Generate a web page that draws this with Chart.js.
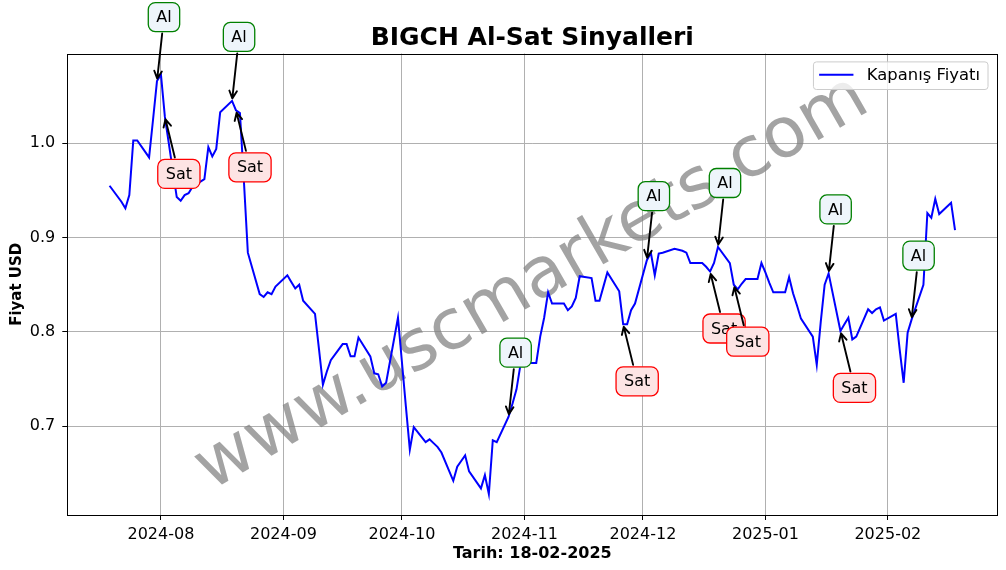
<!DOCTYPE html>
<html>
<head>
<meta charset="utf-8">
<script src="https://cdn.jsdelivr.net/npm/chart.js@4.4.1/dist/chart.umd.min.js"></script>
<style>
html,body{margin:0;padding:0;background:#ffffff;}
#wrap{width:1006px;height:570px;position:relative;}
</style>
</head>
<body>
<div id="wrap"><canvas id="c" width="1006" height="570"></canvas></div>
<script>
// ---------------- DATA ----------------
const dates = [
 '2024-07-19','2024-07-22','2024-07-23','2024-07-24','2024-07-25','2024-07-26','2024-07-29','2024-07-30','2024-07-31',
 '2024-08-01','2024-08-02','2024-08-05','2024-08-06','2024-08-07','2024-08-08','2024-08-09','2024-08-12','2024-08-13',
 '2024-08-14','2024-08-15','2024-08-16','2024-08-19','2024-08-20','2024-08-21','2024-08-22','2024-08-23','2024-08-26',
 '2024-08-27','2024-08-28','2024-08-29','2024-08-30','2024-09-02','2024-09-03','2024-09-04','2024-09-05','2024-09-06',
 '2024-09-09','2024-09-10','2024-09-11','2024-09-12','2024-09-13','2024-09-16','2024-09-17','2024-09-18','2024-09-19',
 '2024-09-20','2024-09-23','2024-09-24','2024-09-25','2024-09-26','2024-09-27','2024-09-30','2024-10-01','2024-10-02',
 '2024-10-03','2024-10-04','2024-10-07','2024-10-08','2024-10-09','2024-10-10','2024-10-11','2024-10-14','2024-10-15',
 '2024-10-16','2024-10-17','2024-10-18','2024-10-21','2024-10-22','2024-10-23','2024-10-24','2024-10-25','2024-10-28',
 '2024-10-29','2024-10-30','2024-10-31','2024-11-01','2024-11-04','2024-11-05','2024-11-06','2024-11-07','2024-11-08',
 '2024-11-11','2024-11-12','2024-11-13','2024-11-14','2024-11-15','2024-11-18','2024-11-19','2024-11-20','2024-11-21',
 '2024-11-22','2024-11-25','2024-11-26','2024-11-27','2024-11-28','2024-11-29','2024-12-02','2024-12-03','2024-12-04',
 '2024-12-05','2024-12-06','2024-12-09','2024-12-10','2024-12-11','2024-12-12','2024-12-13','2024-12-16','2024-12-17',
 '2024-12-18','2024-12-19','2024-12-20','2024-12-23','2024-12-24','2024-12-25','2024-12-26','2024-12-27','2024-12-30',
 '2024-12-31','2025-01-01','2025-01-02','2025-01-03','2025-01-06','2025-01-07','2025-01-08','2025-01-09','2025-01-10',
 '2025-01-13','2025-01-14','2025-01-15','2025-01-16','2025-01-17','2025-01-20','2025-01-21','2025-01-22','2025-01-23',
 '2025-01-24','2025-01-27','2025-01-28','2025-01-29','2025-01-30','2025-01-31','2025-02-03','2025-02-04','2025-02-05',
 '2025-02-06','2025-02-07','2025-02-10','2025-02-11','2025-02-12','2025-02-13','2025-02-14','2025-02-17','2025-02-18'
];
const closes = [
 0.955,0.938,0.931,0.945,1.003,1.003,0.985,1.025,1.066,
 1.073,1.028,0.943,0.939,0.945,0.947,0.954,0.962,0.996,
 0.986,0.994,1.033,1.045,1.035,1.032,0.960,0.884,0.840,
 0.837,0.842,0.840,0.848,0.860,0.853,0.846,0.850,0.833,
 0.819,0.782,0.744,0.758,0.770,0.787,0.787,0.774,0.774,
 0.794,0.774,0.756,0.755,0.742,0.746,0.815,0.768,0.721,
 0.675,0.699,0.683,0.686,0.682,0.678,0.672,0.642,0.657,
 0.663,0.669,0.652,0.634,0.648,0.628,0.685,0.683,0.710,
 0.724,0.739,0.765,0.767,0.767,0.795,0.815,0.842,0.830,
 0.830,0.823,0.827,0.836,0.859,0.857,0.833,0.833,0.848,
 0.863,0.843,0.808,0.808,0.823,0.830,0.876,0.884,0.860,
 0.883,0.884,0.888,0.887,0.886,0.884,0.873,0.873,0.869,
 0.864,0.873,0.890,0.873,0.850,0.845,0.851,0.856,0.856,
 0.873,0.863,0.852,0.842,0.842,0.858,0.841,0.828,0.814,
 0.795,0.765,0.810,0.850,0.862,0.801,0.808,0.815,0.792,
 0.795,0.824,0.820,0.824,0.826,0.812,0.819,0.781,0.746,
 0.799,0.813,0.850,0.926,0.921,0.941,0.925,0.937,0.908
];
const buyDates  = ['2024-07-31','2024-08-19','2024-10-28','2024-12-02','2024-12-20','2025-01-17','2025-02-07'];
const sellDates = ['2024-08-02','2024-08-20','2024-11-26','2024-12-18','2024-12-24','2025-01-20'];
const buyText = 'Al';
const sellText = 'Sat';
const yTicks = [0.7, 0.8, 0.9, 1.0];
const xTickDates  = ['2024-08-01','2024-09-01','2024-10-01','2024-11-01','2024-12-01','2025-01-01','2025-02-01'];
const xTickLabels = ['2024-08','2024-09','2024-10','2024-11','2024-12','2025-01','2025-02'];
const chartTitle = 'BIGCH Al-Sat Sinyalleri';
const xTitle = 'Tarih: 18-02-2025';
const yTitle = 'Fiyat USD';
const seriesLabel = 'Kapanış Fiyatı';
const watermark = 'www.uscmarkets.com';

// ---------------- HELPERS ----------------
const dayNum = s => Date.UTC(+s.slice(0,4), +s.slice(5,7)-1, +s.slice(8,10)) / 86400000;
const xs = dates.map(dayNum);
const xSpan = xs[xs.length-1] - xs[0];
const xMin = xs[0] - 0.05 * xSpan, xMax = xs[xs.length-1] + 0.05 * xSpan;
const yLo = Math.min(...closes), yHi = Math.max(...closes), ySpan = yHi - yLo;
const yMin = yLo - 0.05 * ySpan, yMax = yHi + 0.05 * ySpan;
const tickMap = {};
xTickDates.forEach((d,i) => { tickMap[dayNum(d)] = xTickLabels[i]; });
const priceAt = d => closes[dates.indexOf(d)];

const FONT = '"DejaVu Sans", "Liberation Sans", sans-serif';

function roundRect(ctx, x, y, w, h, r) {
  ctx.beginPath();
  ctx.moveTo(x + r, y);
  ctx.lineTo(x + w - r, y);
  ctx.arcTo(x + w, y, x + w, y + r, r);
  ctx.lineTo(x + w, y + h - r);
  ctx.arcTo(x + w, y + h, x + w - r, y + h, r);
  ctx.lineTo(x + r, y + h);
  ctx.arcTo(x, y + h, x, y + h - r, r);
  ctx.lineTo(x, y + r);
  ctx.arcTo(x, y, x + r, y, r);
  ctx.closePath();
}

function drawSignal(ctx, px, py, text, dx, dy, fill, stroke) {
  ctx.save();
  ctx.font = '16px ' + FONT;
  const tw = ctx.measureText(text).width;
  const bw = tw + 16, bh = 29;
  const cx = px + dx, cy = py + dy;
  // arrow
  const vx = px - cx, vy = py - cy;
  const len = Math.hypot(vx, vy);
  const ux = vx / len, uy = vy / len;
  const tX = Math.abs(vx) > 1e-6 ? (bw / 2) / Math.abs(vx) : Infinity;
  const tY = Math.abs(vy) > 1e-6 ? (bh / 2) / Math.abs(vy) : Infinity;
  const t = Math.min(tX, tY);
  const sx = cx + vx * t + ux * 2, sy = cy + vy * t + uy * 2;
  const ex = px - ux * 2.5, ey = py - uy * 2.5;
  ctx.strokeStyle = '#000';
  ctx.lineWidth = 1.9;
  ctx.lineCap = 'round';
  ctx.lineJoin = 'round';
  ctx.beginPath();
  ctx.moveTo(sx, sy);
  ctx.lineTo(ex, ey);
  const hl = 7.5, hw = 3.8;
  const bx = ex - ux * hl, by = ey - uy * hl;
  ctx.moveTo(bx - uy * hw, by + ux * hw);
  ctx.lineTo(ex, ey);
  ctx.lineTo(bx + uy * hw, by - ux * hw);
  ctx.stroke();
  // box
  roundRect(ctx, cx - bw / 2, cy - bh / 2, bw, bh, 7);
  ctx.fillStyle = fill;
  ctx.fill();
  ctx.lineWidth = 1.3;
  ctx.strokeStyle = stroke;
  ctx.stroke();
  ctx.fillStyle = '#000';
  ctx.textAlign = 'center';
  ctx.textBaseline = 'middle';
  ctx.fillText(text, cx, cy + 1);
  ctx.restore();
}

const overlay = {
  id: 'overlay',
  beforeDatasetsDraw(chart) {
    const {ctx, chartArea: ca} = chart;
    ctx.save();
    ctx.beginPath();
    ctx.rect(ca.left, ca.top, ca.right - ca.left, ca.bottom - ca.top);
    ctx.clip();
    ctx.translate((ca.left + ca.right) / 2, (ca.top + ca.bottom) / 2);
    ctx.rotate(-30 * Math.PI / 180);
    ctx.font = '70px ' + FONT;
    ctx.fillStyle = 'rgba(128,128,128,0.72)';
    ctx.textAlign = 'center';
    ctx.textBaseline = 'middle';
    ctx.fillText(watermark, 0, 0);
    ctx.restore();
  },
  afterDraw(chart) {
    const {ctx, chartArea: ca, scales} = chart;
    const xS = scales.x, yS = scales.y;
    // frame
    ctx.save();
    ctx.strokeStyle = '#000';
    ctx.lineWidth = 1;
    ctx.strokeRect(Math.round(ca.left) + 0.5, Math.round(ca.top) + 0.5,
                   Math.round(ca.right) - Math.round(ca.left), Math.round(ca.bottom) - Math.round(ca.top));
    ctx.restore();
    // signals
    sellDates.forEach(d => {
      drawSignal(ctx, xS.getPixelForValue(dayNum(d)), yS.getPixelForValue(priceAt(d)),
        sellText, 14, 57, '#fde4e4', '#ff0000');
    });
    buyDates.forEach(d => {
      drawSignal(ctx, xS.getPixelForValue(dayNum(d)), yS.getPixelForValue(priceAt(d)),
        buyText, 7, -64, '#eef5fb', '#008000');
    });
    // legend
    const ds = chart.data.datasets[0];
    ctx.save();
    ctx.font = '16.4px ' + FONT;
    const tw = ctx.measureText(ds.label).width;
    const bw = 5.7 + 34.3 + 13.4 + tw + 8;
    const bh = 27.6;
    const bx = ca.right - 9.3 - bw, by = ca.top + 8.4;
    roundRect(ctx, bx, by, bw, bh, 3);
    ctx.fillStyle = 'rgba(255,255,255,0.8)';
    ctx.fill();
    ctx.strokeStyle = '#cccccc';
    ctx.lineWidth = 1;
    ctx.stroke();
    ctx.beginPath();
    ctx.moveTo(bx + 5.7, by + 12.8);
    ctx.lineTo(bx + 40, by + 12.8);
    ctx.strokeStyle = ds.borderColor;
    ctx.lineWidth = 2;
    ctx.stroke();
    ctx.fillStyle = '#000';
    ctx.textAlign = 'left';
    ctx.textBaseline = 'middle';
    ctx.fillText(ds.label, bx + 53.4, by + 13.8);
    ctx.restore();
  }
};

new Chart(document.getElementById('c'), {
  type: 'line',
  data: {
    datasets: [{
      label: seriesLabel,
      data: xs.map((x, i) => ({x: x, y: closes[i]})),
      borderColor: '#0000ff',
      borderWidth: 2,
      pointRadius: 0,
      tension: 0,
      fill: false
    }]
  },
  options: {
    responsive: false,
    animation: false,
    events: [],
    devicePixelRatio: 1,
    layout: { padding: { left: 0, right: 8.7, top: 0, bottom: 0 } },
    plugins: {
      legend: { display: false },
      tooltip: { enabled: false },
      title: {
        display: true,
        text: chartTitle,
        fullSize: false,
        color: '#000',
        font: { family: FONT, size: 25, weight: 'bold', lineHeight: 1.2 },
        padding: { top: 23.5, bottom: 0 }
      }
    },
    scales: {
      x: {
        type: 'linear',
        min: xMin,
        max: xMax,
        afterBuildTicks: s => { s.ticks = xTickDates.map(d => ({value: dayNum(d)})); },
        afterFit: s => { s.height = 55; },
        ticks: {
          autoSkip: false, maxRotation: 0, color: '#000', padding: 5,
          font: { family: FONT, size: 16 },
          callback: v => tickMap[v] || ''
        },
        grid: { color: '#b0b0b0', lineWidth: 1, drawTicks: true, tickLength: 5, tickColor: '#000', tickWidth: 1 },
        border: { display: false },
        title: {
          display: true, text: xTitle, color: '#000',
          font: { family: FONT, size: 16, weight: 'bold', lineHeight: 1.2 },
          padding: { top: 0, bottom: 7 }
        }
      },
      y: {
        type: 'linear',
        min: yMin,
        max: yMax,
        afterBuildTicks: s => { s.ticks = yTicks.map(v => ({value: v})); },
        afterFit: s => { s.width = 67.3; },
        ticks: {
          color: '#000', padding: 7,
          font: { family: FONT, size: 16 },
          callback: v => Number(v).toFixed(1)
        },
        grid: { color: '#b0b0b0', lineWidth: 1, drawTicks: true, tickLength: 5, tickColor: '#000', tickWidth: 1 },
        border: { display: false },
        title: {
          display: true, text: yTitle, color: '#000',
          font: { family: FONT, size: 15, weight: 'bold', lineHeight: 1.2 },
          padding: { top: 8, bottom: 0 }
        }
      }
    }
  },
  plugins: [overlay]
});
</script>
</body>
</html>
